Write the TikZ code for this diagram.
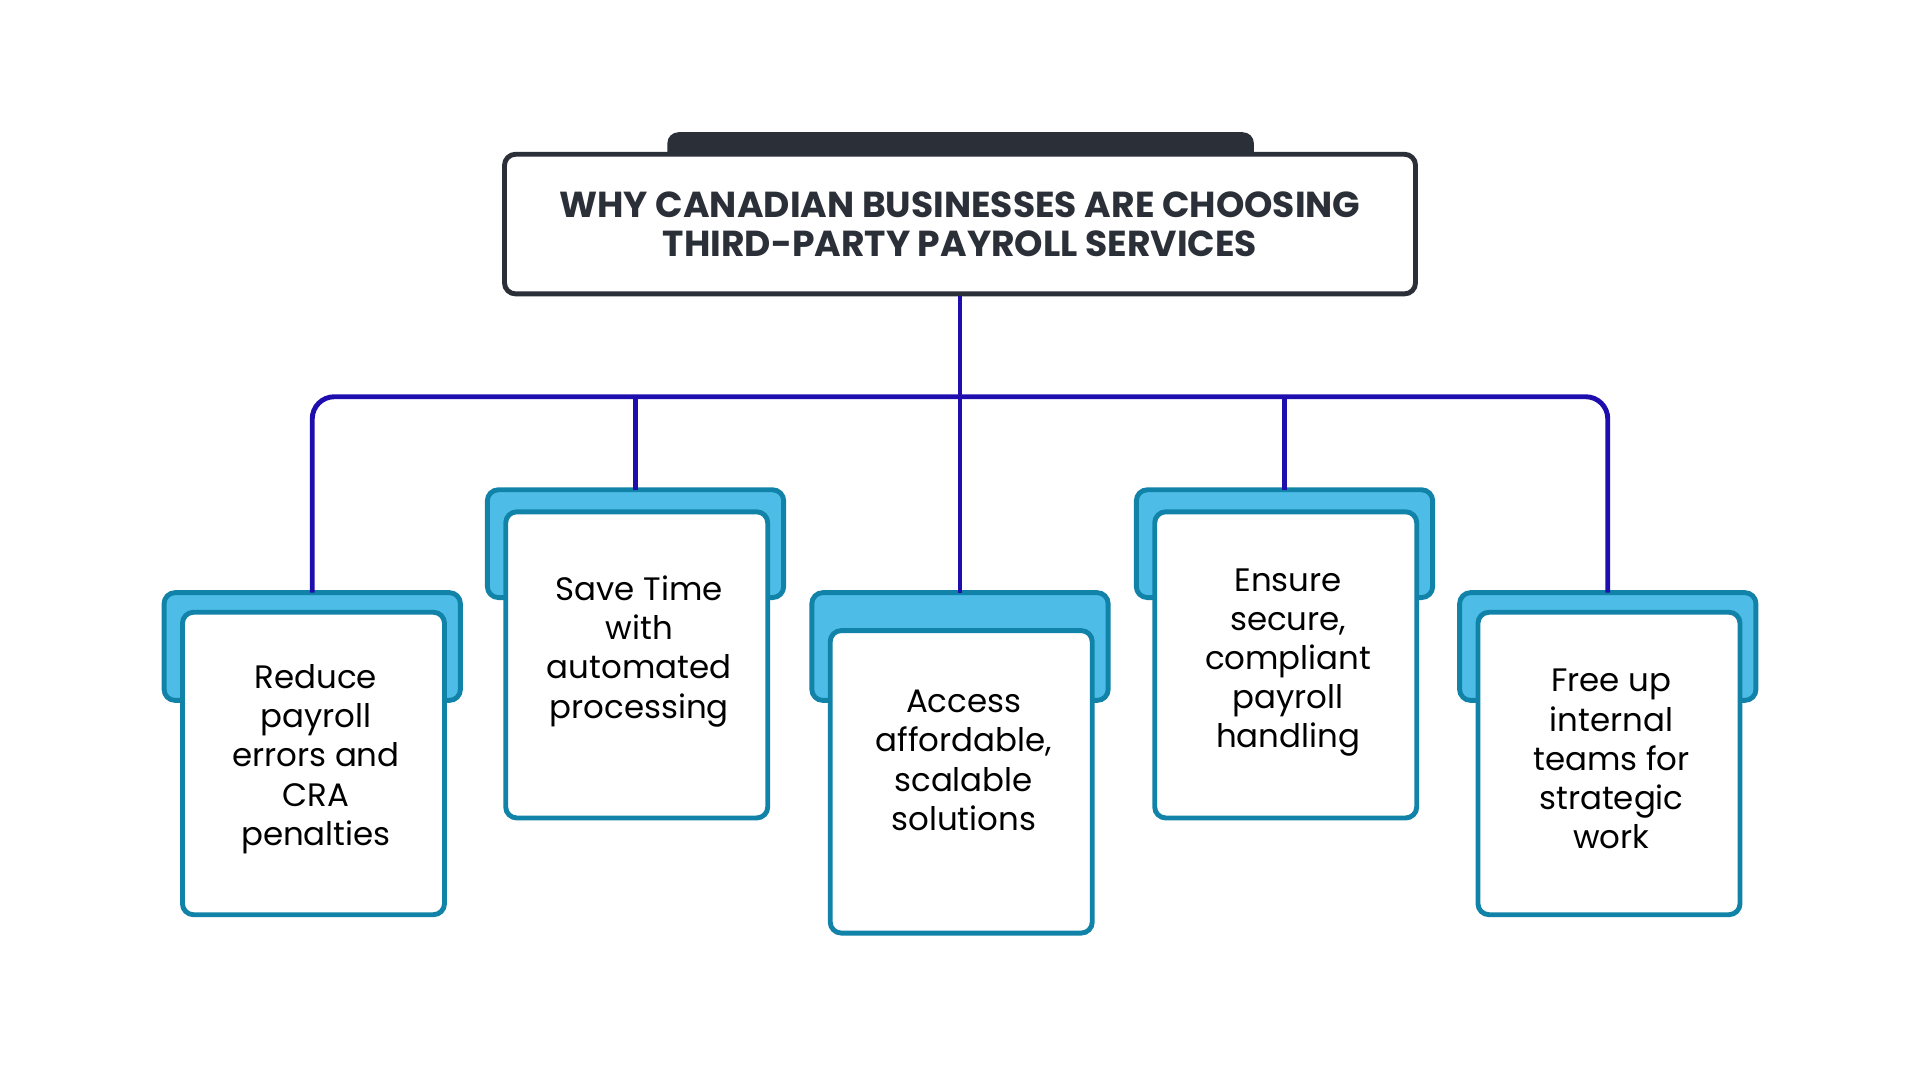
\documentclass[tikz,border=0pt]{standalone}
\usepackage{fontspec}
\setmainfont{Poppins}
\begin{document}
\begin{tikzpicture}[x=1pt,y=-1pt,
  conn/.style={draw=linkblue,line width=4pt},
  tabbox/.style={draw=tealb,fill=skyb,line width=4pt,rounded corners=9pt},
  frontbox/.style={draw=tealb,fill=white,line width=4pt,rounded corners=9pt},
  txt/.style={align=center,font=\fontsize{26.5}{32}\selectfont,text=black}]
\definecolor{linkblue}{HTML}{1E0EAE}
\definecolor{tealb}{HTML}{1283A8}
\definecolor{skyb}{HTML}{4DBDE8}
\definecolor{darkg}{HTML}{2B2F38}
\useasboundingbox[fill=white] (0,0) rectangle (1568,882);
% title
\fill[darkg,rounded corners=9pt] (545,108) rectangle (1024,140);
\node[draw=darkg,fill=white,line width=4pt,rounded corners=9pt,minimum width=744pt,minimum height=114pt,inner sep=0pt] (title) at (784,183) {};
\node[align=center,font=\bfseries\fontsize{29.5}{32}\selectfont,text=darkg] (tt) at (784,183) {WHY CANADIAN BUSINESSES ARE CHOOSING\\THIRD-PARTY PAYROLL SERVICES};
% boxes: name, x, tab top y, front offset, front height, text y, text
\def\bx#1#2#3#4#5#6#7{%
  \draw[tabbox] (#2-121,#3) rectangle (#2+121,#3+88);
  \node[frontbox,minimum width=214pt,minimum height=#5pt,inner sep=0pt,anchor=north] (#1) at (#2+1,#3+#4) {};
  \node[txt] (#1t) at (#2+3,#6) {#7};
  \coordinate (#1top) at (#2,#3);}
\bx{b1}{255}{484}{14}{247}{620}{Reduce\\payroll\\errors and\\CRA\\penalties}
\bx{b2}{519}{400}{16}{250}{532}{Save Time\\with\\automated\\processing}
\bx{b3}{784}{484}{29}{247}{621}{Access\\affordable,\\scalable\\solutions}
\bx{b4}{1049}{400}{16}{250}{541}{Ensure\\secure,\\compliant\\payroll\\handling}
\bx{b5}{1313}{484}{14}{247}{620}{Free up\\internal\\teams for\\strategic\\work}
% connectors
\coordinate (hub) at (784,324);
\draw[conn] (title.south) -- (hub);
\draw[conn,rounded corners=18pt] (b1top) |- (hub) -| (b5top);
\draw[conn] (b2top) -- (b2top|-hub);
\draw[conn] (b4top) -- (b4top|-hub);
\draw[conn] (hub) -- (b3top);
\end{tikzpicture}
\end{document}
